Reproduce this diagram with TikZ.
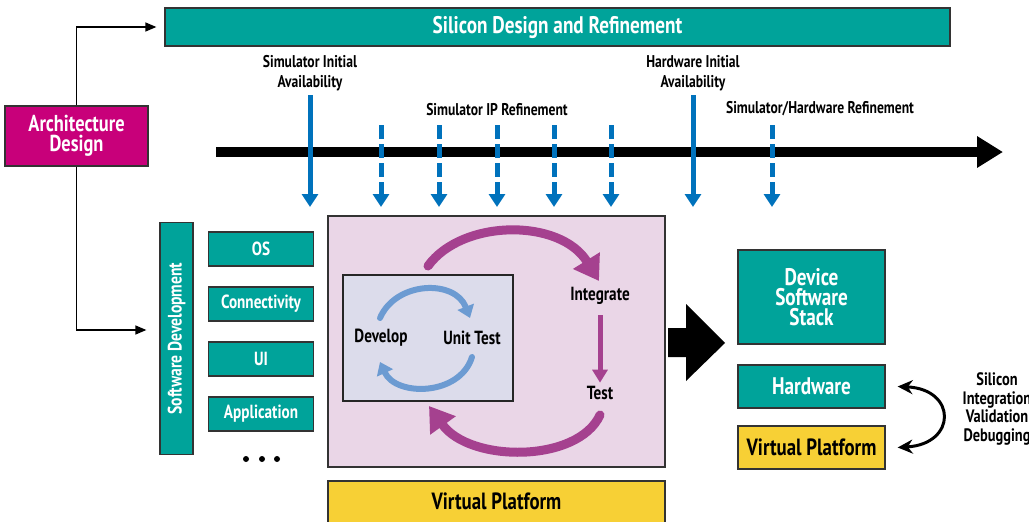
\documentclass[tikz,border=0pt]{standalone}
\usepackage{fontspec}
\setmainfont{PT Sans}[FakeStretch=0.8]
\usetikzlibrary{arrows.meta}
\definecolor{sdteal}{RGB}{0,163,154}
\definecolor{sdmag}{RGB}{200,0,122}
\definecolor{sdblue}{RGB}{0,114,188}
\definecolor{sdpink}{RGB}{234,214,231}
\definecolor{sdlav}{RGB}{220,220,235}
\definecolor{sdsky}{RGB}{108,155,210}
\definecolor{sdplum}{RGB}{165,65,143}
\definecolor{sdyel}{RGB}{247,208,53}

\begin{document}
\begin{tikzpicture}[x=1pt,y=-1pt,
  box/.style={draw=black!80,line width=1.3pt,fill=sdteal,text=white,inner sep=0pt,align=center},
  swbox/.style={box,minimum width=105,minimum height=34,font=\bfseries\fontsize{19}{19}\selectfont},
  lbl/.style={font=\bfseries\fontsize{17}{20}\selectfont,align=center},
  phase/.style={font=\bfseries\fontsize{19}{19}\selectfont},
  mile/.style={line width=5pt,draw=sdblue,-{Triangle[length=13pt,width=16pt]}},
  plumarc/.style={line width=9pt,draw=sdplum,line cap=round,-{Triangle[length=24pt,width=30pt]}},
  skyarc/.style={line width=6pt,draw=sdsky,line cap=round,-{Triangle[length=12pt,width=17pt]}}]
\useasboundingbox (0,0) rectangle (1029,522);
\clip (0,0) rectangle (1029,522);

% 顶部硅设计条
\node[box,minimum width=785,minimum height=38,font=\bfseries\fontsize{24}{24}\selectfont] (sdr) at (557.5,27) {Silicon Design and Refinement};
% 架构设计
\node[box,fill=sdmag,minimum width=143,minimum height=60,font=\bfseries\fontsize{23}{20}\selectfont] (arch) at (76.5,136) {Architecture\\Design};

% 时间轴
\draw[line width=10pt,-{Triangle[length=26pt,width=30pt]}] (216,152) -- (1003,152);
% 里程碑标签
\node[lbl] (simia) at (310,73) {Simulator Initial\\Availability};
\node[lbl] (hwia) at (693,73) {Hardware Initial\\Availability};
\node[lbl] (simip) at (497,110) {Simulator IP Refinement};
\node[lbl] (simhw) at (820,109) {Simulator/Hardware Refinement};
% 实线箭头（初始可用）
\draw[mile] (310,95) -- (310,207);
\draw[mile] (693,95) -- (693,207);
% 虚线箭头（细化）
\foreach \x in {381,439,497,554,611,772}{
  \draw[mile,dash pattern=on 14pt off 5pt] (\x,125) -- (\x,207);
}

% 软件开发
\node[box,minimum width=33,minimum height=232] (swdev) at (176.5,338.5) {};
\node[rotate=90,text=white,font=\bfseries\fontsize{19.5}{19.5}\selectfont] (swdevtxt) at (swdev.center) {Software Development};
\node[swbox] (os) at (261,249) {OS};
\node[swbox] (conn) at (261,304) {Connectivity};
\node[swbox] (ui) at (261,359) {UI};
\node[swbox] (app) at (261,414) {Application};
\foreach \x in {246,262,277}{
  \fill (\x,459) circle (3pt);
}
% 架构设计 -> 两侧
\draw[line width=1.3pt,-{Triangle[length=11pt,width=9pt]}] (arch.north) |- ([xshift=-8pt]sdr.west);
\draw[line width=1.3pt,-{Triangle[length=11pt,width=9pt]}] (arch.south) |- ([xshift=-13pt,yshift=8.5pt]swdev.west);

% 虚拟平台上的开发循环
\node[draw=black!80,line width=1.3pt,fill=sdpink,minimum width=337,minimum height=251] (vp) at (496.5,341.5) {};
\node[draw=black!85,line width=1.3pt,fill=sdlav,minimum width=170,minimum height=126] (inner) at (428,338) {};
\node[phase] (dev) at (381,338) {Develop};
\node[phase] (ut) at (472,338) {Unit Test};
\node[phase] (integ) at (600,296) {Integrate};
\node[phase] (test) at (600,393) {Test};
\draw[skyarc] (380,318) .. controls (396,281) and (455,279) .. (470,318);
\draw[skyarc] (472,357) .. controls (460,396) and (396,397) .. (380,362);
\draw[plumarc] (428,266) .. controls (462,219) and (560,218) .. (599,281);
\draw[plumarc] (600,415) .. controls (578,463) and (470,463) .. (429,406);
\draw[line width=5pt,draw=sdplum,-{Triangle[length=13pt,width=15pt]}] (600,315) -- (test.north);
% 底部虚拟平台
\draw[draw=black!80,line width=1.3pt,fill=sdyel] (328,481) rectangle (665,540);
\node[font=\bfseries\fontsize{23.5}{23.5}\selectfont] (vpbar) at (496.5,501) {Virtual Platform};

% 大箭头
\fill (668,328) -- (686,328) -- (686,304) -- (725,343) -- (686,381) -- (686,357) -- (668,357) -- cycle;

% 右侧结果
\node[box,minimum width=147,minimum height=94,font=\bfseries\fontsize{24}{20}\selectfont] (dss) at (811.5,297) {Device\\Software\\Stack};
\node[box,minimum width=147,minimum height=43,font=\bfseries\fontsize{24}{24}\selectfont] (hw) at (811.5,386.5) {Hardware};
\node[box,fill=sdyel,text=black,minimum width=147,minimum height=43,font=\bfseries\fontsize{23.5}{23.5}\selectfont] (vp2) at (811.5,447.5) {Virtual Platform};
\coordinate (hwr) at ([xshift=12pt]hw.east);
\coordinate (vpr) at ([xshift=12pt]vp2.east);
\draw[line width=3pt,{Stealth[length=15pt,width=14pt]}-{Stealth[length=15pt,width=14pt]}] (hwr) .. controls (957,389) and (957,444) .. (vpr);
\node[font=\bfseries\fontsize{18}{18.5}\selectfont,align=center] (silint) at (997,409) {Silicon\\Integration\\Validation\\Debugging};
\end{tikzpicture}
\end{document}
